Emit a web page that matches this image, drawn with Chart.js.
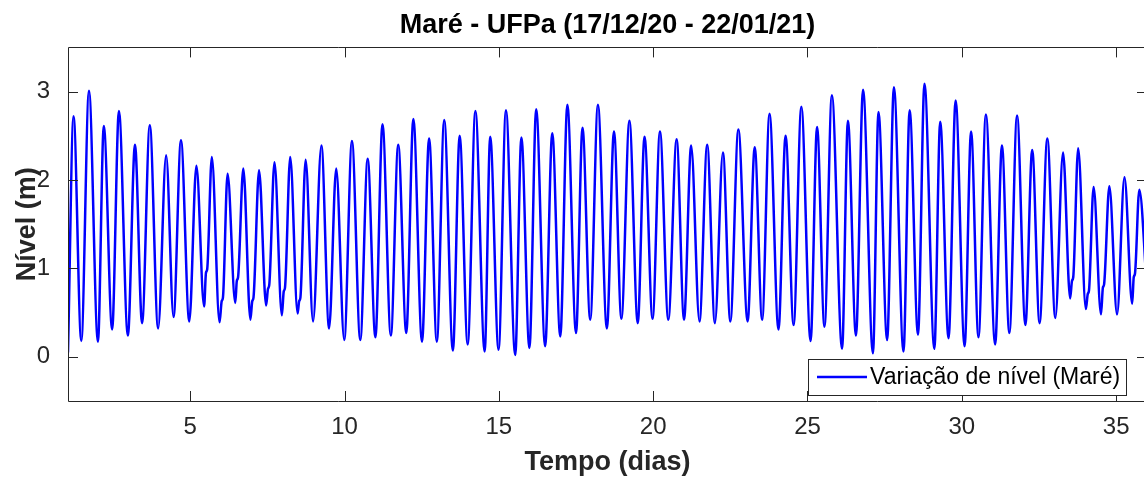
<!DOCTYPE html>
<html>
	<head>
		<meta charset="UTF-8">
		<title>Maré - UFPa</title>
		<style type="text/css">
			html, body{
				margin: 0;
				padding: 0;
				overflow: hidden;
				background: #fff;
			}
			.box{
				position: relative;
				width: 1152px;
				height: 479px;
			}
		</style>
	</head>
	<body>
		<div class="box">
			<canvas id="grafico"></canvas>
		</div>
	</body>
	<script src="https://cdn.jsdelivr.net/npm/chart.js@4.4.1/dist/chart.umd.min.js"></script>
	<script>
		// preamares, baixa-mares e os degraus da enchente (dia, nível em m)
		var tempoDias = [
			1.04, 1.22, 1.47, 1.72, 2.01, 2.20, 2.47, 2.69, 2.98, 3.21,
			3.44, 3.69, 3.96, 4.22, 4.46, 4.70, 4.97, 5.20, 5.45, 5.51,
			5.55, 5.70, 5.95, 6.02, 6.06, 6.21, 6.46, 6.51, 6.55, 6.72,
			6.95, 7.01, 7.05, 7.23, 7.46, 7.52, 7.56, 7.73, 7.97, 8.03,
			8.07, 8.24, 8.48, 8.53, 8.57, 8.74, 8.98, 9.25, 9.50, 9.73,
			9.99, 10.24, 10.51, 10.75, 11.00, 11.23, 11.50, 11.74, 12.00, 12.23,
			12.51, 12.74, 12.99, 13.23, 13.51, 13.73, 13.99, 14.24, 14.54, 14.72,
			14.99, 15.23, 15.53, 15.73, 15.99, 16.21, 16.50, 16.73, 16.99, 17.22,
			17.50, 17.71, 17.96, 18.21, 18.50, 18.73, 18.97, 19.23, 19.50, 19.72,
			19.98, 20.22, 20.49, 20.76, 21.00, 21.23, 21.50, 21.75, 22.00, 22.26,
			22.50, 22.76, 23.06, 23.29, 23.53, 23.77, 24.06, 24.29, 24.55, 24.80,
			25.10, 25.31, 25.55, 25.79, 26.12, 26.31, 26.57, 26.80, 27.12, 27.30,
			27.58, 27.80, 28.11, 28.31, 28.58, 28.79, 29.11, 29.30, 29.57, 29.80,
			30.09, 30.30, 30.54, 30.78, 31.08, 31.30, 31.54, 31.79, 32.06, 32.28,
			32.52, 32.77, 33.03, 33.28, 33.51, 33.57, 33.61, 33.77, 34.02, 34.08,
			34.12, 34.27, 34.51, 34.57, 34.61, 34.78, 35.03, 35.27, 35.52, 35.57,
			35.61, 35.75, 36.00
		];
		var nivel = [
			0.05, 2.72, 0.18, 3.01, 0.17, 2.61, 0.31, 2.78, 0.24, 2.40,
			0.38, 2.62, 0.32, 2.28, 0.45, 2.45, 0.40, 2.16, 0.57, 0.95,
			0.99, 2.26, 0.39, 0.63, 0.67, 2.07, 0.61, 0.86, 0.90, 2.13,
			0.42, 0.63, 0.67, 2.11, 0.58, 0.77, 0.81, 2.20, 0.47, 0.74,
			0.78, 2.26, 0.49, 0.63, 0.67, 2.23, 0.40, 2.39, 0.32, 2.13,
			0.19, 2.44, 0.19, 2.24, 0.22, 2.63, 0.24, 2.40, 0.27, 2.69,
			0.17, 2.47, 0.17, 2.68, 0.07, 2.50, 0.14, 2.78, 0.06, 2.49,
			0.08, 2.79, 0.02, 2.48, 0.10, 2.80, 0.12, 2.53, 0.23, 2.85,
			0.27, 2.59, 0.42, 2.85, 0.32, 2.55, 0.43, 2.67, 0.38, 2.49,
			0.43, 2.55, 0.42, 2.46, 0.42, 2.39, 0.40, 2.40, 0.38, 2.31,
			0.40, 2.57, 0.40, 2.37, 0.42, 2.75, 0.31, 2.50, 0.36, 2.83,
			0.18, 2.60, 0.34, 2.96, 0.09, 2.67, 0.24, 3.02, 0.04, 2.77,
			0.19, 3.05, 0.06, 2.79, 0.25, 3.09, 0.09, 2.66, 0.21, 2.90,
			0.12, 2.55, 0.22, 2.74, 0.14, 2.39, 0.27, 2.73, 0.36, 2.34,
			0.38, 2.47, 0.44, 2.31, 0.66, 0.86, 0.90, 2.36, 0.54, 0.71,
			0.75, 1.92, 0.48, 0.78, 0.82, 1.93, 0.48, 2.03, 0.60, 0.90,
			0.94, 1.89, 0.75
		];
		var ticksX = [5, 10, 15, 20, 25, 30, 35];
		var ticksY = [0, 1, 2, 3];

		var fonte = 'Liberation Sans, Arial, Helvetica, sans-serif';
		var cinza = '#262626';

		// caixa do eixo, marcas para dentro e legenda no canto inferior direito
		var moldura = {
			id: 'moldura',
			afterDatasetsDraw: function(chart){
				var ctx = chart.ctx;
				var a = chart.chartArea;
				var sx = chart.scales.x, sy = chart.scales.y;
				ctx.save();
				ctx.strokeStyle = cinza;
				ctx.lineWidth = 1;
				ctx.beginPath();
				ctx.rect(Math.round(a.left) + 0.5, Math.round(a.top) + 0.5, Math.round(a.width), Math.round(a.height));
				ticksX.forEach(function(v){
					var px = Math.round(sx.getPixelForValue(v)) + 0.5;
					ctx.moveTo(px, a.bottom); ctx.lineTo(px, a.bottom - 10);
					ctx.moveTo(px, a.top); ctx.lineTo(px, a.top + 10);
				});
				ticksY.forEach(function(v){
					var py = Math.round(sy.getPixelForValue(v)) + 0.5;
					ctx.moveTo(a.left, py); ctx.lineTo(a.left + 10, py);
					ctx.moveTo(a.right, py); ctx.lineTo(a.right - 10, py);
				});
				ctx.stroke();

				var ds = chart.data.datasets[0];
				ctx.font = '23px ' + fonte;
				var tw = ctx.measureText(ds.label).width;
				var right = Math.round(a.right - 21), bottom = Math.round(a.bottom - 6);
				var w = Math.round(tw + 68), h = 36;
				var left = right - w, top = bottom - h;
				ctx.fillStyle = '#fff';
				ctx.fillRect(left, top, w, h);
				ctx.strokeStyle = cinza;
				ctx.strokeRect(left + 0.5, top + 0.5, w, h);
				ctx.strokeStyle = ds.borderColor;
				ctx.lineWidth = 2.5;
				ctx.beginPath();
				ctx.moveTo(left + 9, top + h / 2);
				ctx.lineTo(left + 59, top + h / 2);
				ctx.stroke();
				ctx.fillStyle = '#000';
				ctx.textBaseline = 'middle';
				ctx.textAlign = 'left';
				ctx.fillText(ds.label, left + 62, top + h / 2 + 1);
				ctx.restore();
			}
		};

		var pontos = tempoDias.map(function(d, i){ return {x: d, y: nivel[i]}; });

		var grafico = new Chart(document.getElementById('grafico').getContext('2d'), {
			type: 'line',
			data: {
				datasets: [{
					label: 'Variação de nível (Maré)',
					data: pontos,
					borderColor: '#0000ff',
					borderWidth: 2.5,
					pointRadius: 0,
					fill: false,
					cubicInterpolationMode: 'monotone'
				}]
			},
			options: {
				responsive: true,
				maintainAspectRatio: false,
				animation: false,
				events: [],
				layout: {padding: {top: 0, right: 5, bottom: 0, left: 0}},
				plugins: {
					legend: {display: false},
					tooltip: {enabled: false},
					title: {
						display: true,
						fullSize: false,
						text: 'Maré - UFPa (17/12/20 - 22/01/21)',
						color: '#000',
						font: {family: fonte, size: 27, weight: 'bold'},
						padding: {top: 9, bottom: 6}
					}
				},
				scales: {
					x: {
						type: 'linear',
						min: 1.04,
						max: 36,
						grid: {display: false},
						border: {display: false},
						afterBuildTicks: function(s){ s.ticks = ticksX.map(function(v){ return {value: v}; }); },
						afterFit: function(s){ s.height = 78; },
						ticks: {
							color: cinza,
							font: {family: fonte, size: 24},
							padding: 4,
							maxRotation: 0
						},
						title: {
							display: true,
							text: 'Tempo (dias)',
							color: cinza,
							font: {family: fonte, size: 27, weight: 'bold'},
							padding: {top: 0, bottom: 0}
						}
					},
					y: {
						min: -0.5,
						max: 3.5,
						grid: {display: false},
						border: {display: false},
						afterBuildTicks: function(s){ s.ticks = ticksY.map(function(v){ return {value: v}; }); },
						afterFit: function(s){ s.width = 68; },
						ticks: {
							color: cinza,
							font: {family: fonte, size: 24},
							padding: 10
						},
						title: {
							display: true,
							text: 'Nível (m)',
							color: cinza,
							font: {family: fonte, size: 27, weight: 'bold'},
							padding: {top: 11, bottom: 0}
						}
					}
				}
			},
			plugins: [moldura]
		});
	</script>
</html>
